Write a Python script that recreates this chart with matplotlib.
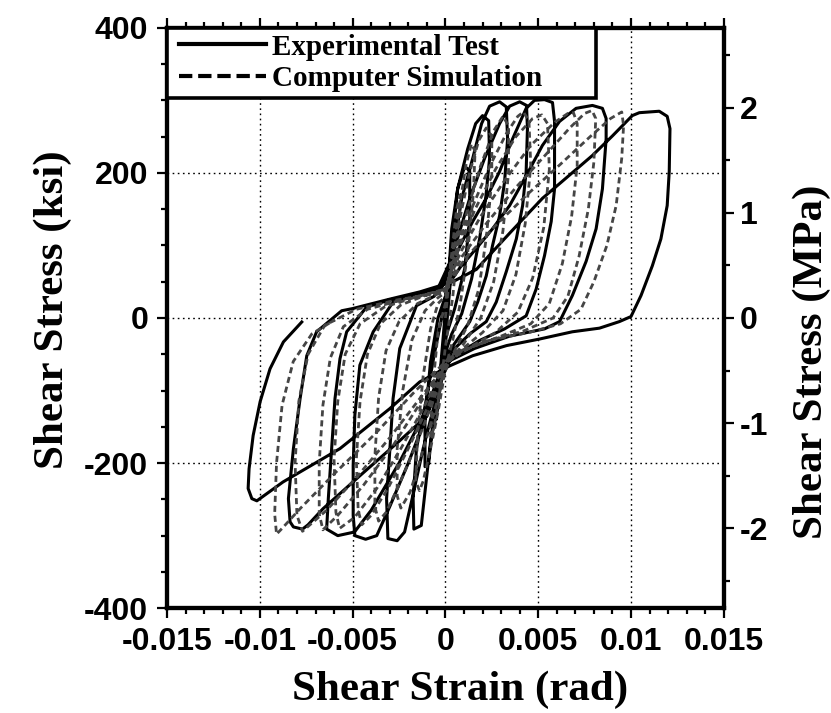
import matplotlib
matplotlib.use("Agg")
import matplotlib.pyplot as plt
from matplotlib.lines import Line2D
from matplotlib.legend_handler import HandlerLine2D
from matplotlib.ticker import MultipleLocator
import numpy as np

# ---- experimental test record (strain rad, stress ksi), one continuous trace ----
exp_start = [(0.0, 0), (0.0003, 60), (0.0005, 110), (0.0006, 140), (0.0005, 120), (0.0003, 60),
             (0.0001, 0), (-0.0002, -60), (-0.0004, -110), (-0.0005, -140), (-0.0004, -110),
             (-0.0002, -50), (0.0, 10)]
exp_cycle1 = [(0.0002, 70), (0.00034, 123), (0.00066, 178), (0.00104, 209), (0.00131, 203),
              (0.00131, 137), (0.00104, 68), (0.0005, 13), (0.00007, -22), (-0.0003, -80),
              (-0.0007, -150), (-0.0009, -200), (-0.0011, -205), (-0.0011, -140), (-0.0008, -60),
              (-0.0004, 0), (0.0, 30)]
exp_cycle2 = [(0.0003, 90), (0.00066, 178), (0.0012, 233), (0.00163, 268), (0.002, 279),
              (0.00233, 272), (0.00238, 220), (0.00217, 165), (0.00184, 109), (0.00141, 54),
              (0.00088, 6), (0.00034, -22), (0.0001, -40), (-0.0003, -100), (-0.0008, -170),
              (-0.0011, -240), (-0.0013, -286), (-0.0017, -291), (-0.00174, -249), (-0.00156, -180),
              (-0.00102, -111), (-0.0006, -50), (-0.0002, 0)]
exp_cycle3 = [(0.0003, 70), (0.00088, 165), (0.00147, 220), (0.00195, 268), (0.00238, 292),
              (0.00292, 298), (0.00328, 291), (0.00335, 247), (0.00319, 188), (0.00292, 141),
              (0.00254, 100), (0.0022, 58), (0.00174, 22), (0.00131, -5), (0.00066, -29),
              (0.00012, -49), (-0.0005, -110), (-0.0012, -180), (-0.0018, -250), (-0.0022, -295),
              (-0.0026, -307), (-0.0031, -304), (-0.00317, -249), (-0.00299, -180), (-0.00282, -111),
              (-0.00246, -42), (-0.00156, 17), (-0.0006, 30)]
exp_cycle4 = [(0.0003, 80), (0.00131, 165), (0.00211, 220), (0.00292, 268), (0.00346, 292),
              (0.004, 298), (0.00437, 293), (0.00442, 261), (0.00435, 202), (0.00416, 155),
              (0.00382, 109), (0.00328, 64), (0.00274, 22), (0.0022, -5), (0.00131, -22),
              (0.0005, -42), (-0.0002, -70), (-0.0008, -120), (-0.002, -200), (-0.003, -260),
              (-0.0037, -300), (-0.0043, -305), (-0.00488, -300), (-0.00497, -272), (-0.00497, -203),
              (-0.00488, -134), (-0.00461, -65), (-0.00389, -19), (-0.00282, 22), (-0.0015, 32),
              (-0.0002, 42)]
exp_cycle5 = [(0.0008, 100), (0.00147, 133), (0.0022, 165), (0.00292, 202), (0.00362, 247),
              (0.00435, 289), (0.0048, 300), (0.00534, 301), (0.00577, 297), (0.00588, 271),
              (0.00588, 178), (0.0057, 133), (0.00534, 86), (0.00489, 40), (0.00435, 3),
              (0.00319, -15), (0.00184, -31), (0.0005, -52), (-0.0003, -75), (-0.001, -125),
              (-0.0025, -200), (-0.004, -265), (-0.0049, -295), (-0.0058, -300), (-0.0064, -291),
              (-0.00631, -249), (-0.00613, -180), (-0.00595, -111), (-0.00568, -56), (-0.00532, -19),
              (-0.00425, 15), (-0.003, 25), (-0.0015, 32), (0.0, 40)]
exp_cycle6 = [(0.0008, 70), (0.00167, 96), (0.00254, 123), (0.00346, 155), (0.00435, 196),
              (0.00523, 238), (0.00615, 271), (0.00704, 289), (0.00792, 293), (0.00846, 289),
              (0.00866, 275), (0.00866, 247), (0.00846, 178), (0.00812, 123), (0.00758, 78),
              (0.00684, 31), (0.00615, -5), (0.00534, -15), (0.00346, -25), (0.00157, -42),
              (0.00023, -59), (-0.0005, -100), (-0.001, -135), (-0.0025, -170), (-0.0045, -215),
              (-0.0066, -263), (-0.0074, -285), (-0.0077, -291), (-0.00819, -288), (-0.00837, -281),
              (-0.00846, -249), (-0.00819, -180), (-0.00783, -111), (-0.00747, -52), (-0.00694, -19),
              (-0.00559, 10), (-0.005, 13), (-0.003, 26), (-0.00138, 36), (0.0004, 50)]
exp_cycle7 = [(0.00167, 67), (0.0035, 118), (0.00523, 165), (0.00792, 224), (0.009, 251),
              (0.01007, 279), (0.01045, 283), (0.01152, 285), (0.01195, 278), (0.0121, 261),
              (0.01206, 202), (0.01195, 155), (0.01161, 109), (0.01115, 72), (0.01054, 31),
              (0.01, 2), (0.00937, -5), (0.0083, -14), (0.00684, -19), (0.00507, -29),
              (0.0033, -38), (0.00147, -52), (0.00023, -66), (-0.00138, -88), (-0.003, -125),
              (-0.00568, -180), (-0.00875, -226), (-0.01016, -252), (-0.01043, -249),
              (-0.01063, -235), (-0.01058, -208), (-0.01036, -162), (-0.00998, -115),
              (-0.00945, -70), (-0.00873, -33), (-0.00774, -5.5)]

# ---- computer simulation (strain rad, stress ksi) ----
sim_cycle0 = [(0.0, 0), (0.0003, 80), (0.0006, 150), (0.0008, 170), (0.0007, 110), (0.0004, 30),
              (0.0, -40), (-0.0003, -100), (-0.0006, -150), (-0.0008, -165), (-0.0007, -100),
              (-0.0004, -20), (0.0, 20)]
sim_cycle1 = [(0.0004, 90), (0.0008, 160), (0.0011, 210), (0.0014, 240), (0.0016, 230),
              (0.0015, 170), (0.0012, 90), (0.0008, 20), (0.0004, -30), (0.0, -70),
              (-0.0004, -130), (-0.0008, -180), (-0.0012, -225), (-0.0014, -238), (-0.0016, -225),
              (-0.0015, -160), (-0.0012, -80), (-0.0008, -15), (-0.0004, 20), (0.0, 30)]
sim_cycle2 = [(0.0003, 70), (0.0008, 140), (0.0013, 200), (0.0018, 245), (0.0022, 262),
              (0.0025, 250), (0.0025, 190), (0.0022, 110), (0.0018, 40), (0.0012, -10),
              (0.0005, -45), (0.0, -70), (-0.0006, -130), (-0.0013, -190), (-0.0019, -240),
              (-0.0024, -262), (-0.0026, -245), (-0.0026, -180), (-0.0023, -100), (-0.0018, -30),
              (-0.0011, 10), (-0.0004, 28), (0.0, 35)]
sim_cycle3 = [(0.0005, 85), (0.0012, 150), (0.0019, 210), (0.0026, 258), (0.0031, 278),
              (0.0034, 265), (0.0034, 200), (0.0031, 120), (0.0026, 50), (0.0019, 0),
              (0.001, -35), (0.0002, -60), (-0.0006, -110), (-0.0015, -170), (-0.0025, -230),
              (-0.0032, -268), (-0.0036, -280), (-0.0038, -260), (-0.0038, -190), (-0.0036, -110),
              (-0.0032, -45), (-0.0025, -5), (-0.0015, 20), (-0.0005, 32), (0.0, 38)]
sim_cycle4 = [(0.0006, 90), (0.0014, 150), (0.0024, 210), (0.0033, 255), (0.0039, 278),
              (0.0042, 284), (0.0045, 272), (0.0046, 210), (0.0043, 130), (0.0038, 60),
              (0.0031, 10), (0.002, -20), (0.0008, -45), (0.0, -65), (-0.0009, -120),
              (-0.002, -180), (-0.0031, -235), (-0.004, -272), (-0.0045, -285), (-0.0047, -265),
              (-0.0048, -195), (-0.0046, -115), (-0.0042, -50), (-0.0035, -8), (-0.0024, 18),
              (-0.0012, 30), (0.0, 40)]
sim_cycle5 = [(0.0007, 95), (0.0016, 150), (0.0027, 205), (0.0038, 250), (0.0047, 275),
              (0.0052, 280), (0.0055, 268), (0.0056, 205), (0.0053, 125), (0.0047, 55),
              (0.0039, 8), (0.0027, -20), (0.0012, -42), (0.0, -62), (-0.0011, -120),
              (-0.0024, -180), (-0.0037, -235), (-0.0049, -275), (-0.0057, -290), (-0.0059, -268),
              (-0.006, -195), (-0.0058, -115), (-0.0054, -50), (-0.0046, -8), (-0.0033, 15),
              (-0.0017, 28), (0.0, 40)]
sim_cycle6 = [(0.0008, 90), (0.0019, 140), (0.0032, 190), (0.0046, 238), (0.0059, 270),
              (0.0066, 282), (0.0069, 283), (0.0071, 268), (0.0071, 210), (0.0068, 140),
              (0.0063, 75), (0.0056, 20), (0.0046, -8), (0.003, -25), (0.0014, -40), (0.0, -60),
              (-0.0013, -115), (-0.0028, -175), (-0.0044, -230), (-0.0058, -272), (-0.0066, -292),
              (-0.0068, -270), (-0.0068, -200), (-0.0066, -120), (-0.0062, -55), (-0.0055, -12),
              (-0.0042, 12), (-0.0022, 26), (0.0, 38)]
sim_cycle7 = [(0.0009, 85), (0.0022, 130), (0.0038, 180), (0.0054, 225), (0.0067, 262),
              (0.0075, 282), (0.0079, 286), (0.0081, 275), (0.008, 215), (0.0077, 150),
              (0.0072, 85), (0.0066, 30), (0.0058, 0), (0.0042, -18), (0.0022, -32), (0.0005, -50),
              (-0.0012, -105), (-0.003, -165), (-0.0048, -220), (-0.0064, -265), (-0.0077, -294),
              (-0.008, -272), (-0.0081, -200), (-0.0079, -115), (-0.0074, -50), (-0.0065, -10),
              (-0.0048, 12), (-0.0026, 25), (0.0, 36)]
sim_cycle8 = [(0.001, 80), (0.0026, 125), (0.0044, 170), (0.0062, 212), (0.0078, 250),
              (0.0089, 275), (0.0095, 284), (0.0096, 265), (0.0095, 220), (0.0092, 155),
              (0.0087, 100), (0.008, 50), (0.0073, 12), (0.0062, -8), (0.0045, -20),
              (0.0025, -30), (0.0005, -48), (-0.0016, -100), (-0.0038, -160), (-0.006, -215),
              (-0.0078, -262), (-0.0088, -290), (-0.0091, -298), (-0.0092, -270), (-0.0091, -200),
              (-0.0088, -120), (-0.0082, -60), (-0.0072, -22), (-0.006, -3)]

x_ticks = [-0.015, -0.01, -0.005, 0, 0.005, 0.01, 0.015]
x_ticklabels = ["-0.015", "-0.01", "-0.005", "0", "0.005", "0.01", "0.015"]
y_ticks = [-400, -200, 0, 200, 400]
y_ticklabels = ["-400", "-200", "0", "200", "400"]
mpa_ticks = [-2, -1, 0, 1, 2]
mpa_ticklabels = ["-2", "-1", "0", "1", "2"]
KSI_PER_MPA = 145.04


def trace(*segments):
    pts = [p for seg in segments for p in seg]
    return np.array([p[0] for p in pts]), np.array([p[1] for p in pts])


exp_x, exp_y = trace(exp_start, exp_cycle1, exp_cycle2, exp_cycle3, exp_cycle4,
                     exp_cycle5, exp_cycle6, exp_cycle7)
sim_x, sim_y = trace(sim_cycle0, sim_cycle1, sim_cycle2, sim_cycle3, sim_cycle4,
                     sim_cycle5, sim_cycle6, sim_cycle7, sim_cycle8)

SANS = "Liberation Sans"
SERIF = "Liberation Serif"

fig = plt.figure(figsize=(8.31, 7.13), dpi=100)
ax = fig.add_axes([0.201, 0.147, 0.670, 0.814])

ax.plot(exp_x, exp_y, color="black", lw=2.2, solid_joinstyle="round", zorder=3)
ax.plot(sim_x, sim_y, color="#454545", lw=2.0, ls=(0, (2.2, 1.4)), zorder=4)

ax.set_xlim(-0.015, 0.015)
ax.set_ylim(-400, 400)
ax.set_xticks(x_ticks)
ax.set_xticklabels(x_ticklabels)
ax.set_yticks(y_ticks)
ax.set_yticklabels(y_ticklabels)
ax.xaxis.set_minor_locator(MultipleLocator(0.001))
ax.yaxis.set_minor_locator(MultipleLocator(50))
ax.grid(True, which="major", color="black", lw=1.0, ls=(0, (1.2, 2.5)), zorder=1)

ax2 = ax.twinx()
ax2.set_ylim(-400 / KSI_PER_MPA, 400 / KSI_PER_MPA)
ax2.set_yticks(mpa_ticks)
ax2.set_yticklabels(mpa_ticklabels)
ax2.yaxis.set_minor_locator(MultipleLocator(0.5))

for a in (ax, ax2):
    for sp in a.spines.values():
        sp.set_linewidth(3.0)
ax.tick_params(which="both", direction="out", top=True, right=False, width=1.6)
ax.tick_params(which="major", length=7.5, pad=6)
ax.tick_params(which="minor", length=4.5)
ax2.tick_params(which="both", direction="out", width=1.6)
ax2.tick_params(which="major", length=7.5, pad=4)
ax2.tick_params(which="minor", length=4.5)

for lab in ax.get_xticklabels() + ax.get_yticklabels() + ax2.get_yticklabels():
    lab.set_fontfamily(SANS)
    lab.set_fontweight("bold")
    lab.set_fontsize(23)

label_font = dict(family=SERIF, weight="bold", size=31)
ax.set_xlabel("Shear Strain (rad)", **label_font)
ax.xaxis.set_label_coords(0.526, -0.141)
ax.xaxis.label.set_va("center")
ax.set_ylabel("Shear Stress (ksi)", **label_font)
ax.yaxis.set_label_coords(-0.206, 0.514)
ax.yaxis.label.set_va("center")
ax2.set_ylabel("Shear Stress (MPa)", rotation=90, **label_font)
ax2.yaxis.set_label_coords(1.158, 0.424)
ax2.yaxis.label.set_va("center")
ax2.yaxis.label.set_ha("center")

# legend box flush with the top-left corner of the frame
handles = [Line2D([], [], color="black", lw=3.0),
           Line2D([], [], color="black", lw=3.0, ls=(0, (3.2, 1.4)))]
leg = ax2.legend(handles, ["Experimental Test", "Computer Simulation"],
                 handler_map={Line2D: HandlerLine2D(xpad=0.21)},
                 loc="upper left", bbox_to_anchor=(0.0, 1.0, 0.770, 0.0), mode="expand",
                 borderaxespad=0.0, frameon=True, fancybox=False, framealpha=1.0,
                 handlelength=3.19, handletextpad=0.2, borderpad=0.2, labelspacing=0.16,
                 prop=dict(family=SERIF, weight="bold", size=21))
leg.get_frame().set_edgecolor("black")
leg.get_frame().set_linewidth(2.6)
leg.set_zorder(10)

fig.savefig("out.png", dpi=100)
